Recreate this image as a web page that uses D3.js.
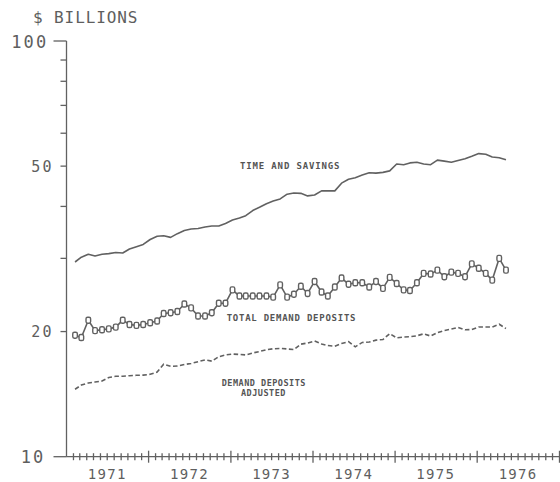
<!DOCTYPE html>
<html>
<head>
<meta charset="utf-8">
<script src="https://cdn.jsdelivr.net/npm/d3@7"></script>
<style>
html,body{margin:0;padding:0;background:#fff;}
svg{display:block;}
text{font-family:"DejaVu Sans Mono","Liberation Mono",monospace;fill:#5e5e5e;}
</style>
</head>
<body>
<svg id="chart" width="560" height="482"></svg>
<script>
// ---- Data (monthly, Feb 1971 - May 1976), $ billions ----
const firstMonth = "1971-02";
const timeSavings = [29.4,30.2,30.7,30.4,30.7,30.8,31.0,30.9,31.6,32.0,32.4,33.3,
  33.9,34.0,33.7,34.4,35.0,35.3,35.4,35.7,35.9,35.9,36.4,37.1,
  37.5,38.0,39.1,39.8,40.6,41.2,41.7,42.8,43.1,43.0,42.4,42.6,
  43.6,43.6,43.6,45.5,46.5,46.9,47.6,48.2,48.1,48.3,48.7,50.6,
  50.4,50.9,51.1,50.6,50.4,51.7,51.4,51.1,51.6,52.1,52.8,53.6,
  53.4,52.6,52.4,51.8];
const totalDemand = [19.6,19.35,21.3,20.1,20.2,20.3,20.5,21.3,20.8,20.7,20.8,21.0,
  21.2,22.1,22.2,22.35,23.3,22.8,21.8,21.8,22.2,23.4,23.4,25.2,
  24.35,24.35,24.35,24.35,24.35,24.2,25.9,24.2,24.6,25.7,24.7,26.4,
  24.9,24.35,25.6,26.9,26.0,26.2,26.2,25.6,26.4,25.4,27.0,26.1,
  25.2,25.1,26.2,27.6,27.5,28.1,27.1,27.8,27.6,27.1,29.1,28.4,
  27.6,26.6,30.0,28.1];
const demandAdjusted = [14.53,14.87,15.04,15.12,15.21,15.50,15.61,15.62,15.66,15.70,15.71,15.79,
  15.98,16.69,16.50,16.52,16.67,16.76,16.93,17.09,16.98,17.40,17.57,17.66,
  17.62,17.57,17.76,17.91,18.08,18.18,18.22,18.16,18.11,18.65,18.77,18.98,
  18.67,18.51,18.44,18.72,18.91,18.38,18.83,18.87,19.07,19.14,19.77,19.32,
  19.41,19.43,19.54,19.75,19.51,19.87,20.12,20.29,20.46,20.20,20.22,20.51,
  20.51,20.51,20.83,20.34];
const yLabelTicks = [10, 20, 50, 100];
const yMinorTicks = [30, 40, 60, 70, 80, 90];
const yearLabels = ["1971","1972","1973","1974","1975","1976"];
const seriesLabels = {
  time: ["TIME AND SAVINGS"],
  total: ["TOTAL DEMAND DEPOSITS"],
  adjusted: ["DEMAND DEPOSITS", "ADJUSTED"]
};

// ---- Layout ----
const svg = d3.select("#chart");
const ink = "#616161";
const x0 = 66.5, x1 = 559.5, yTop = 41, yBot = 456.7;

const start = d3.timeParse("%Y-%m")(firstMonth);
const months = d3.timeMonth.range(start, d3.timeMonth.offset(start, timeSavings.length));
const px = d => d3.timeDay.offset(d, 7);

const x = d3.scaleTime()
  .domain([new Date(1971,0,1), new Date(1977,0,1)])
  .range([x0, x1]);
const y = d3.scaleLog().domain([10,100]).range([yBot, yTop]);

// y axis
const g = svg.append("g").attr("stroke", ink).attr("stroke-width", 1.3).attr("fill","none");
g.append("line").attr("x1", x0).attr("x2", x0).attr("y1", y(100)).attr("y2", y(10));
// major ticks
[10,100].forEach(v => g.append("line").attr("x1", 53.5).attr("x2", x0).attr("y1", y(v)).attr("y2", y(v)));
[20,50].concat(yMinorTicks).forEach(v => g.append("line").attr("x1", 60.5).attr("x2", x0).attr("y1", y(v)).attr("y2", y(v)));

// y labels
yLabelTicks.forEach(v => {
  const big = (v === 10 || v === 100);
  svg.append("text")
    .attr("x", big ? (v===100 ? 48.5 : 45.5) : 54)
    .attr("y", y(v) + (big ? 6.5 : 5.5))
    .attr("text-anchor", "end")
    .style("font-size", big ? "17px" : "15px")
    .style("letter-spacing", big ? "2.2px" : "2.4px")
    .text(v);
});

// title
svg.append("text").attr("x", 33).attr("y", 23)
  .style("font-size", "16px").style("letter-spacing", "0.9px").text("$ BILLIONS");

// x axis
g.append("line").attr("x1", x0).attr("x2", x1).attr("y1", yBot).attr("y2", yBot);
const allMonths = d3.timeMonth.range(new Date(1971,1,1), new Date(1977,0,1));
allMonths.forEach(d => {
  const isYear = d.getMonth() === 0;
  g.append("line").attr("x1", x(d)).attr("x2", x(d))
    .attr("y1", yBot - (isYear ? 6 : 3.5)).attr("y2", yBot + (isYear ? 6 : 3.5));
});
g.append("line").attr("x1", x1).attr("x2", x1).attr("y1", yBot-6).attr("y2", yBot+6);

yearLabels.forEach(yr => {
  const mid = new Date(+yr, 6, 1);
  svg.append("text").attr("x", x(mid)).attr("y", 479)
    .attr("text-anchor","middle")
    .style("font-size","14px").style("letter-spacing","1.3px").text(yr);
});

// lines
const line = d3.line().x((d,i) => x(px(months[i]))).y(d => y(d));
svg.append("path").datum(timeSavings).attr("d", line)
  .attr("fill","none").attr("stroke", ink).attr("stroke-width", 1.6).attr("stroke-linejoin","round");
svg.append("path").datum(totalDemand).attr("d", line)
  .attr("fill","none").attr("stroke", ink).attr("stroke-width", 1.6).attr("stroke-linejoin","round");
svg.append("path").datum(demandAdjusted).attr("d", line)
  .attr("fill","none").attr("stroke", ink).attr("stroke-width", 1.6)
  .attr("stroke-dasharray","4.5,2.5");

// markers
svg.append("g").selectAll("rect").data(totalDemand).join("rect")
  .attr("x", (d,i) => x(px(months[i])) - 2.3)
  .attr("y", d => y(d) - 3)
  .attr("width", 4.6).attr("height", 6)
  .attr("rx", 1.6).attr("ry", 1.6)
  .attr("fill","#fff").attr("stroke", ink).attr("stroke-width", 1.4);

// series labels
const lab = (txt, xx, yy, fs, ls) => svg.append("text").attr("x", xx).attr("y", yy)
  .style("font-size", fs+"px").style("font-weight","bold").style("letter-spacing", ls+"px")
  .style("fill","#555").text(txt);
lab(seriesLabels.time[0], 240, 168.5, 9, 0.85);
lab(seriesLabels.total[0], 226.7, 321, 9, 0.75);
lab(seriesLabels.adjusted[0], 221.7, 385.7, 8.5, 0.5);
lab(seriesLabels.adjusted[1], 241, 395.5, 8.5, 0.5);
</script>
</body>
</html>
